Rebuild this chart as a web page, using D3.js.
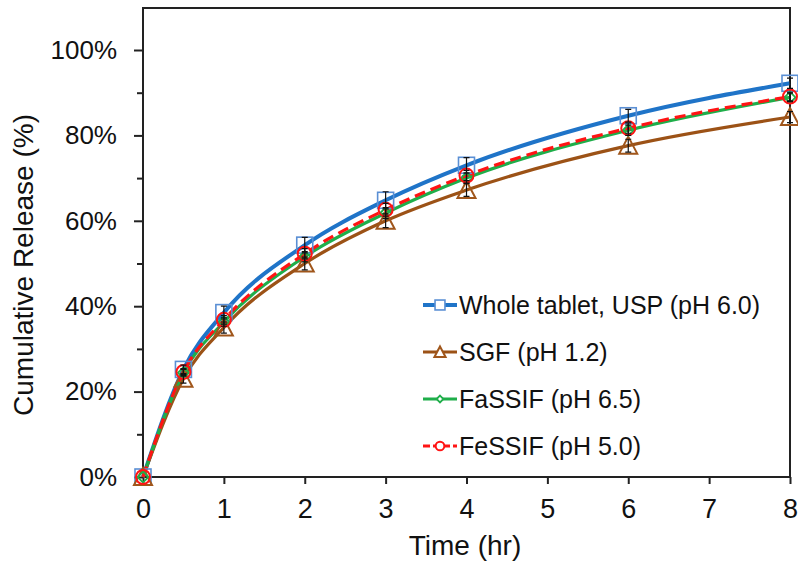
<!DOCTYPE html>
<html><head><meta charset="utf-8">
<script src="https://cdn.jsdelivr.net/npm/d3@7"></script>
<style>body{margin:0;background:#fff}svg{display:block}text{font-family:"Liberation Sans",Arial,sans-serif;fill:#111}</style>
</head><body><svg id="c" width="798" height="564"></svg>
<script>
const times = [0, 0.5, 1, 2, 3, 4, 6, 8];
const seriesNames = ["Whole tablet, USP (pH 6.0)", "SGF (pH 1.2)", "FaSSIF (pH 6.5)", "FeSSIF (pH 5.0)"];
const wholeTablet = [0, 25.2, 38.5, 54.3, 64.8, 73.0, 84.6, 92.2];
const sgf = [0, 23.0, 35.0, 50.0, 60.0, 67.2, 77.6, 84.3];
const fassif = [0, 24.4, 36.3, 51.6, 61.8, 70.0, 81.2, 88.9];
const fessif = [0, 24.6, 36.8, 52.3, 62.6, 70.6, 81.7, 89.1];
const errWhole = [0, 1.0, 1.5, 1.8, 2.0, 1.8, 1.5, 1.2];
const errSgf = [0, 1.0, 1.3, 1.5, 1.6, 1.5, 1.5, 1.3];
const errFassif = [0, 0.8, 1.0, 1.2, 1.3, 1.2, 1.2, 1.0];
const errFessif = [0, 0.8, 1.0, 1.2, 1.5, 1.2, 1.2, 1.0];
const xTicks = [0, 1, 2, 3, 4, 5, 6, 7, 8];
const yTicks = [0, 20, 40, 60, 80, 100];
const yMinorTicks = [10, 30, 50, 70, 90];

const svg = d3.select("#c");
const x = d3.scaleLinear().domain([0, 8]).range([143, 790]);
const y = d3.scaleLinear().domain([0, 100]).range([477, 50]);
const frameTop = 8;

const series = [
  {name: seriesNames[0], vals: wholeTablet, err: errWhole, color: "#1f74c8", mcolor: "#5a8fd4", width: 4, dash: null, marker: "square"},
  {name: seriesNames[1], vals: sgf, err: errSgf, color: "#9c5216", mcolor: "#a0561b", width: 3.2, dash: null, marker: "triangle"},
  {name: seriesNames[2], vals: fassif, err: errFassif, color: "#1fae4a", mcolor: "#1fae4a", width: 3.2, dash: null, marker: "diamond"},
  {name: seriesNames[3], vals: fessif, err: errFessif, color: "#ff1414", mcolor: "#ff1414", width: 3.2, dash: "11,6", marker: "circle"}
];

// frame
svg.append("path").attr("d", `M${x(0)},${y(0)}V${frameTop}H${x(8)}V${y(0)}H${x(0)}`)
  .attr("fill", "none").attr("stroke", "#222").attr("stroke-width", 2);

// y axis ticks
const gy = svg.append("g").attr("transform", `translate(${x(0)},0)`)
  .call(d3.axisLeft(y).tickValues(yTicks).tickSize(9).tickPadding(17).tickFormat(d => d + "%"));
gy.select(".domain").remove();
gy.selectAll(".tick line").attr("stroke", "#222").attr("stroke-width", 2);
gy.selectAll("text").style("font-size", "26px").attr("fill", "#111");
const gyMinor = svg.append("g").attr("transform", `translate(${x(0)},0)`)
  .call(d3.axisLeft(y).tickValues(yMinorTicks).tickSize(6).tickFormat(""));
gyMinor.select(".domain").remove();
gyMinor.selectAll(".tick line").attr("stroke", "#222").attr("stroke-width", 2);

// x axis
const gx = svg.append("g").attr("transform", `translate(0,${y(0)})`)
  .call(d3.axisBottom(x).tickValues(xTicks).tickSize(7).tickPadding(15).tickFormat(d3.format("d")));
gx.select(".domain").remove();
gx.selectAll(".tick line").attr("stroke", "#222").attr("stroke-width", 2);
gx.selectAll("text").style("font-size", "27px").attr("fill", "#111");

// titles
svg.append("text").attr("x", 465).attr("y", 555).attr("text-anchor", "middle").style("font-size", "28px").text("Time (hr)");
svg.append("text").attr("transform", `translate(33,265) rotate(-90)`).attr("text-anchor", "middle").style("font-size", "28px").text("Cumulative Release (%)");

// lines
const line = d3.line().x(d => x(d[0])).y(d => y(d[1])).curve(d3.curveMonotoneX);
const gl = svg.append("g");
series.forEach(s => {
  const pts = times.map((t, i) => [t, s.vals[i]]);
  gl.append("path").datum(pts).attr("d", line).attr("fill", "none")
    .attr("stroke", s.color).attr("stroke-width", s.width)
    .attr("stroke-dasharray", s.dash);
});

function drawMarker(g, type, cx, cy, color, fill, k) {
  if (type === "square") {
    const h = 8 * k;
    g.append("rect").attr("x", cx - h).attr("y", cy - h).attr("width", 2 * h).attr("height", 2 * h)
      .attr("fill", fill).attr("stroke", color).attr("stroke-width", 1.6);
  } else if (type === "triangle") {
    g.append("path").attr("d", `M${cx},${cy - 9 * k}L${cx + 9 * k},${cy + 8 * k}L${cx - 9 * k},${cy + 8 * k}Z`)
      .attr("fill", fill).attr("stroke", color).attr("stroke-width", 2);
  } else if (type === "diamond") {
    g.append("path").attr("d", `M${cx},${cy - 5.5 * k}L${cx + 5.5 * k},${cy}L${cx},${cy + 5.5 * k}L${cx - 5.5 * k},${cy}Z`)
      .attr("fill", fill).attr("stroke", color).attr("stroke-width", 1.8);
  } else {
    g.append("circle").attr("cx", cx).attr("cy", cy).attr("r", 7 * k)
      .attr("fill", fill).attr("stroke", color).attr("stroke-width", 2);
  }
}

// markers + error bars
const gm = svg.append("g");
series.forEach(s => {
  times.forEach((t, i) => {
    drawMarker(gm, s.marker, x(t), y(s.vals[i]), s.mcolor, "none", 1);
  });
});
const ge = svg.append("g");
series.forEach(s => {
  times.forEach((t, i) => {
    if (s.err[i] > 0) {
      const cx = x(t), y1 = y(s.vals[i] + s.err[i]), y2 = y(s.vals[i] - s.err[i]);
      ge.append("path").attr("d", `M${cx},${y1}V${y2}M${cx - 3},${y1}H${cx + 3}M${cx - 3},${y2}H${cx + 3}`)
        .attr("stroke", "#111").attr("stroke-width", 1.2).attr("fill", "none");
    }
  });
});

// legend
const legY = [305, 352, 399, 446];
const lg = svg.append("g");
series.forEach((s, i) => {
  const ly = legY[i];
  lg.append("line").attr("x1", 423).attr("x2", 457).attr("y1", ly).attr("y2", ly)
    .attr("stroke", s.color).attr("stroke-width", s.width).attr("stroke-dasharray", s.dash ? "7,3" : null);
  drawMarker(lg, s.marker, 440, ly, s.mcolor, "#fff", 0.62);
  lg.append("text").attr("x", 459).attr("y", ly + 9).style("font-size", "25px").text(s.name);
});
</script></body></html>
